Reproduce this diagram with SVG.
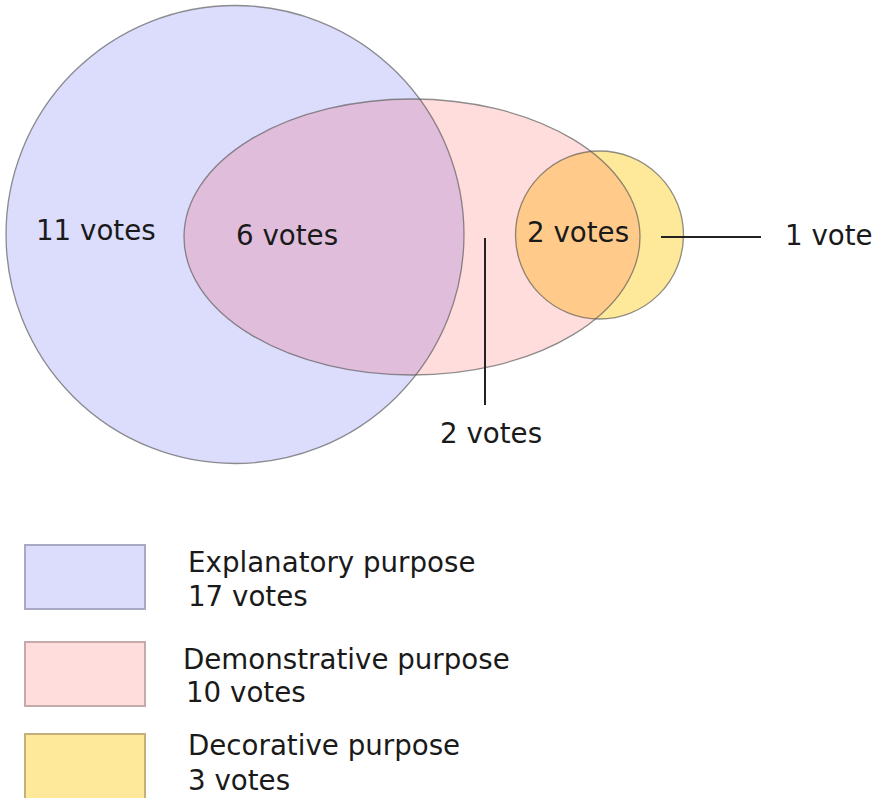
<svg xmlns="http://www.w3.org/2000/svg" width="873" height="798" viewBox="0 0 873 798">
<style>
text{font-family:"DejaVu Sans","Liberation Sans",sans-serif;font-size:27.7px;fill:#1a1a1a}
.edge{fill:none;stroke:#555;stroke-opacity:0.65;stroke-width:1.3}
.lead{stroke:#222;stroke-width:2;fill:none}
.box{stroke-width:2}
</style>
<defs>
<clipPath id="clipBlue"><circle cx="235" cy="234.5" r="229"/></clipPath>
<clipPath id="clipPink"><ellipse cx="412" cy="237" rx="228" ry="138"/></clipPath>
</defs>
<rect width="873" height="798" fill="#ffffff"/>
<g id="explanatory">
<circle cx="235" cy="234.5" r="229" fill="#dcdcfc"/>
</g>
<g id="demonstrative">
<ellipse cx="412" cy="237" rx="228" ry="138" fill="#ffdddd"/>
<ellipse cx="412" cy="237" rx="228" ry="138" fill="#e0bedb" clip-path="url(#clipBlue)"/>
</g>
<g id="decorative">
<circle cx="599.5" cy="235" r="84" fill="#fee89a"/>
<circle cx="599.5" cy="235" r="84" fill="#ffca8a" clip-path="url(#clipPink)"/>
</g>
<g id="outlines">
<circle class="edge" cx="235" cy="234.5" r="229"/>
<ellipse class="edge" cx="412" cy="237" rx="228" ry="138"/>
<circle class="edge" cx="599.5" cy="235" r="84"/>
</g>
<g id="connectors">
<line class="lead" x1="485" y1="238" x2="485" y2="405"/>
<line class="lead" x1="661" y1="237" x2="761" y2="237"/>
</g>
<g id="labels">
<text x="36" y="240">11 votes</text>
<text x="236" y="245">6 votes</text>
<text x="527" y="242">2 votes</text>
<text x="785" y="245">1 vote</text>
<text x="440" y="443">2 votes</text>
</g>
<g id="legend-explanatory">
<rect class="box" x="25" y="545" width="120" height="64" fill="#dcdcfc" stroke="#a9a9c4"/>
<text x="188" y="572">Explanatory purpose</text>
<text x="188" y="606">17 votes</text>
</g>
<g id="legend-demonstrative">
<rect class="box" x="25" y="642" width="120" height="64" fill="#ffdddd" stroke="#c4aaaa"/>
<text x="183" y="669">Demonstrative purpose</text>
<text x="186" y="702">10 votes</text>
</g>
<g id="legend-decorative">
<rect class="box" x="25" y="734" width="120" height="66" fill="#fee89a" stroke="#c4b17a"/>
<text x="188" y="755">Decorative purpose</text>
<text x="188" y="790">3 votes</text>
</g>
</svg>
